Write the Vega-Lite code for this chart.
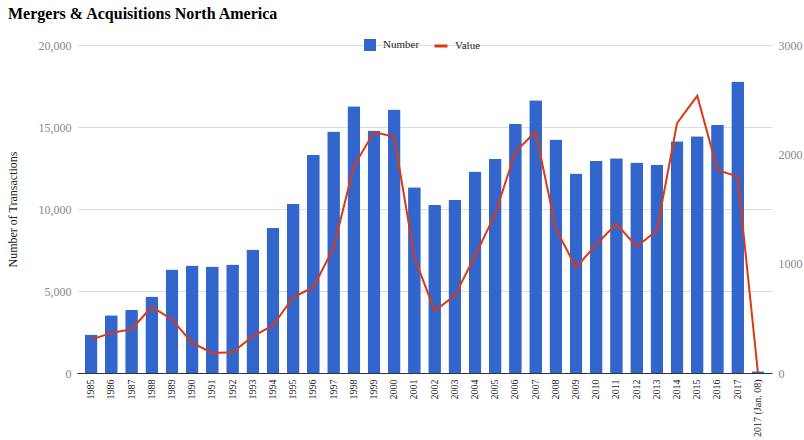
{
  "$schema": "https://vega.github.io/schema/vega-lite/v6.json",
  "width": 695,
  "height": 328,
  "autosize": "none",
  "padding": {"left": 77, "top": 45, "right": 32, "bottom": 67},
  "background": "white",
  "title": {
    "text": "Mergers & Acquisitions North America",
    "anchor": "start",
    "frame": "group",
    "font": "Liberation Serif",
    "fontSize": 16,
    "fontWeight": "bold",
    "color": "#000000",
    "dx": -69,
    "offset": 16
  },
  "data": {
    "values": [
      {"year": "1985", "number": 2350, "value": 305},
      {"year": "1986", "number": 3520, "value": 367},
      {"year": "1987", "number": 3835, "value": 400},
      {"year": "1988", "number": 4660, "value": 605},
      {"year": "1989", "number": 6310, "value": 490},
      {"year": "1990", "number": 6560, "value": 275},
      {"year": "1991", "number": 6500, "value": 183},
      {"year": "1992", "number": 6620, "value": 190},
      {"year": "1993", "number": 7530, "value": 335},
      {"year": "1994", "number": 8850, "value": 435},
      {"year": "1995", "number": 10320, "value": 693},
      {"year": "1996", "number": 13290, "value": 785},
      {"year": "1997", "number": 14730, "value": 1145},
      {"year": "1998", "number": 16260, "value": 1890},
      {"year": "1999", "number": 14790, "value": 2204},
      {"year": "2000", "number": 16070, "value": 2161},
      {"year": "2001", "number": 11320, "value": 1060},
      {"year": "2002", "number": 10250, "value": 568},
      {"year": "2003", "number": 10570, "value": 708},
      {"year": "2004", "number": 12290, "value": 1070},
      {"year": "2005", "number": 13050, "value": 1455},
      {"year": "2006", "number": 15180, "value": 2024},
      {"year": "2007", "number": 16630, "value": 2207},
      {"year": "2008", "number": 14240, "value": 1320},
      {"year": "2009", "number": 12170, "value": 965},
      {"year": "2010", "number": 12920, "value": 1175},
      {"year": "2011", "number": 13100, "value": 1365},
      {"year": "2012", "number": 12830, "value": 1155},
      {"year": "2013", "number": 12700, "value": 1303},
      {"year": "2014", "number": 14130, "value": 2285},
      {"year": "2015", "number": 14440, "value": 2535},
      {"year": "2016", "number": 15130, "value": 1858},
      {"year": "2017", "number": 17770, "value": 1796},
      {"year": "2017 (Jan. 08)", "number": 100, "value": 8}
    ]
  },
  "encoding": {
    "x": {
      "field": "year",
      "type": "nominal",
      "sort": null,
      "scale": {"paddingInner": 0.37, "paddingOuter": 0.385},
      "axis": {
        "title": null,
        "labelAngle": -90,
        "labelFontSize": 10,
        "labelColor": "#222222",
        "labelPadding": 6,
        "ticks": false,
        "domainColor": "#333333",
        "domainWidth": 1,
        "grid": false
      }
    }
  },
  "layer": [
    {
      "mark": {"type": "bar", "cornerRadius": 1},
      "encoding": {
        "y": {
          "field": "number",
          "type": "quantitative",
          "scale": {"domain": [0, 20000]},
          "axis": {
            "title": "Number of Transactions",
            "values": [0, 5000, 10000, 15000, 20000],
            "format": ",d",
            "labelColor": "#888888",
            "labelFontSize": 12,
            "labelPadding": 6,
            "ticks": false,
            "domain": false,
            "grid": true,
            "gridColor": "#dddddd",
            "titleColor": "#222222",
            "titleFontSize": 12,
            "titleFontWeight": "normal",
            "titlePadding": 19
          }
        },
        "fill": {
          "datum": "Number",
          "scale": {"domain": ["Number"], "range": ["#3366CC"]},
          "legend": {
            "title": null,
            "orient": "none",
            "legendX": 286,
            "legendY": -7,
            "direction": "horizontal",
            "symbolType": "square",
            "symbolSize": 144,
            "labelFontSize": 11,
            "labelColor": "#222222",
            "labelOffset": 6
          }
        }
      }
    },
    {
      "mark": {"type": "line", "strokeWidth": 2},
      "encoding": {
        "y": {
          "field": "value",
          "type": "quantitative",
          "scale": {"domain": [0, 3000]},
          "axis": {
            "orient": "right",
            "title": null,
            "values": [0, 1000, 2000, 3000],
            "format": "d",
            "labelColor": "#888888",
            "labelFontSize": 12,
            "labelPadding": 6,
            "ticks": false,
            "domain": false,
            "grid": false
          }
        },
        "stroke": {
          "datum": "Value",
          "scale": {"domain": ["Value"], "range": ["#DC3912"]},
          "legend": {
            "title": null,
            "orient": "none",
            "legendX": 356,
            "legendY": -7,
            "direction": "horizontal",
            "symbolType": "stroke",
            "symbolSize": 169,
            "symbolStrokeWidth": 3,
            "labelFontSize": 11,
            "labelColor": "#222222",
            "labelOffset": 6
          }
        }
      }
    }
  ],
  "resolve": {"scale": {"y": "independent"}},
  "config": {
    "font": "Liberation Serif",
    "view": {"stroke": null},
    "axis": {"labelFont": "Liberation Serif", "titleFont": "Liberation Serif"},
    "legend": {"labelFont": "Liberation Serif"}
  }
}
